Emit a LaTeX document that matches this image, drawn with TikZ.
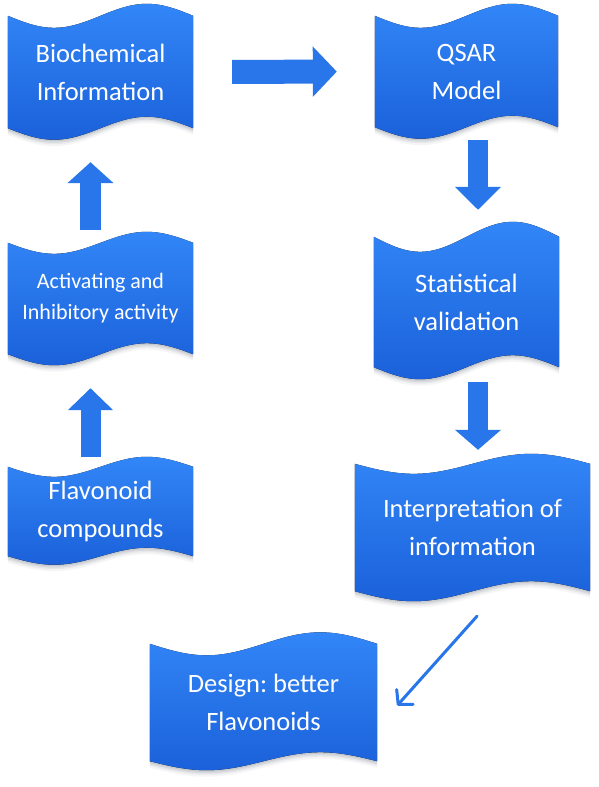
\documentclass[tikz,border=0pt]{standalone}
\usepackage{fontspec}
\setmainfont{Carlito}
\usetikzlibrary{calc,arrows.meta}
\pgfdeclarelayer{back}
\pgfsetlayers{back,main}
\definecolor{tapetop}{RGB}{50,134,247}
\definecolor{tapebot}{RGB}{27,97,218}
\definecolor{arrowblue}{RGB}{40,118,234}
\definecolor{shadowcol}{RGB}{60,70,90}
\tikzset{
  tapenode/.style={inner sep=0pt, text=white, align=center, font=\fontsize{26.5}{38}\selectfont},
  smalltext/.style={font=\fontsize{22}{31}\selectfont},
  tapefill/.style={top color=tapetop, bottom color=tapebot},
  bigarrow/.style args={#1/#2/#3}{draw=arrowblue, line width=#1, line cap=butt, -{Triangle[length=#3, width=#2]}},
  thinarrow/.style={draw=arrowblue, line width=3pt, line cap=round, -{Straight Barb[length=10pt, width=22pt, round]}}
}
\newcommand\tapeshape[3]{%
  \foreach \shy/\opc in {1.5/0.10,3/0.09,4.5/0.07,6.5/0.05}{%
    \fill[shadowcol, opacity=\opc, transform canvas={yshift=-\shy pt}]
      let \p1=(#1.north west), \p2=(#1.south east), \n1={\x2-\x1} in
      (\x1,\y1) sin ({\x1+0.25*\n1},{\y1-#2pt}) cos ({\x1+0.5*\n1},\y1)
      sin ({\x1+0.75*\n1},{\y1+#2pt}) cos (\x2,\y1) -- (\x2,\y2)
      sin ({\x1+0.75*\n1},{\y2+#3pt}) cos ({\x1+0.5*\n1},\y2)
      sin ({\x1+0.25*\n1},{\y2-#3pt}) cos (\x1,\y2) -- cycle;
  }%
  \fill[tapefill]
    let \p1=(#1.north west), \p2=(#1.south east), \n1={\x2-\x1} in
    (\x1,\y1) sin ({\x1+0.25*\n1},{\y1-#2pt}) cos ({\x1+0.5*\n1},\y1)
    sin ({\x1+0.75*\n1},{\y1+#2pt}) cos (\x2,\y1) -- (\x2,\y2)
    sin ({\x1+0.75*\n1},{\y2+#3pt}) cos ({\x1+0.5*\n1},\y2)
    sin ({\x1+0.25*\n1},{\y2-#3pt}) cos (\x1,\y2) -- cycle;
}
\frenchspacing
\begin{document}
\begin{tikzpicture}[x=1pt,y=-1pt]
\useasboundingbox (0,0) rectangle (598,787);
% nodes
\node[tapenode, minimum width=185pt, minimum height=112pt] (bio) at (100.5,72) {Biochemical\\Information};
\node[tapenode, minimum width=183pt, minimum height=111pt] (qsar) at (466.5,71.5) {QSAR\\Model};
\node[tapenode, smalltext, minimum width=185pt, minimum height=111pt] (act) at (100.5,298.5) {Activating and\\Inhibitory activity};
\node[tapenode, minimum width=185pt, minimum height=89pt] (flav) at (100.5,511.5) {Flavonoid\\compounds};
\node[tapenode, minimum width=185pt, minimum height=130pt] (stat) at (466.5,302) {Statistical\\validation};
\node[tapenode, minimum width=235pt, minimum height=127pt] (interp) at (472.5,527.5) {Interpretation of\\information};
\node[tapenode, minimum width=227pt, minimum height=117pt] (design) at (263.5,702.5) {Design: better\\Flavonoids};
% shapes behind
\begin{pgfonlayer}{back}
  \fill[white] (0,0) rectangle (598,787);
  \tapeshape{bio}{12}{11.5}
  \tapeshape{qsar}{12}{11.5}
  \tapeshape{act}{11}{11}
  \tapeshape{flav}{10}{8.5}
  \tapeshape{stat}{15}{12}
  \tapeshape{interp}{10}{10}
  \tapeshape{design}{11.5}{9}
\end{pgfonlayer}
% connectors
\draw[bigarrow={24pt/49pt/24pt}, shorten <=39pt, shorten >=38pt] (bio.east) -- (qsar.west);
\draw[bigarrow={20pt/45pt/23pt}, shorten <=13pt, shorten >=27pt] ($(qsar.south)+(11.5,0)$) -- ($(qsar.south |- stat.north)+(11.5,0)$);
\draw[bigarrow={20pt/45pt/20pt}, shorten <=15pt, shorten >=14pt] ($(stat.south)+(11.5,0)$) -- ($(stat.south |- interp.north)+(11.5,0)$);
\draw[bigarrow={20pt/44pt/22pt}, shorten <=10pt, shorten >=34pt] ($(flav.north)+(-10,0)$) -- ($(act.south)+(-10,0)$);
\draw[bigarrow={21pt/45pt/21pt}, shorten <=13pt, shorten >=34pt] ($(act.north)+(-10,0)$) -- ($(bio.south)+(-10,0)$);
\draw[thinarrow] ($(interp.south)+(4.5,25)$) -- ($(design.east)+(20,3)$);
\end{tikzpicture}
\end{document}
